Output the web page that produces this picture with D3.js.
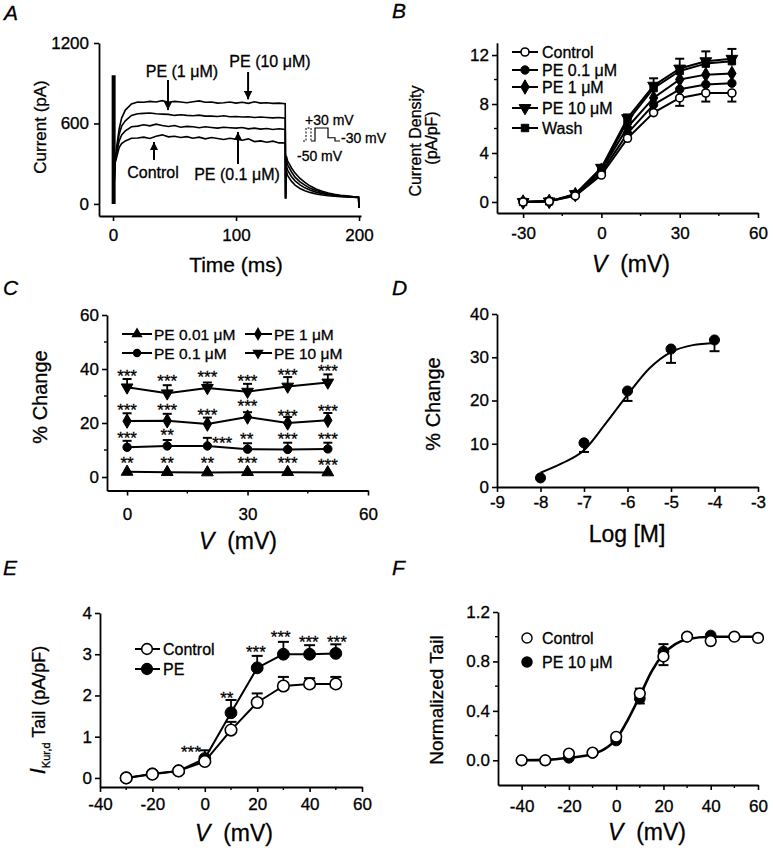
<!DOCTYPE html>
<html><head><meta charset="utf-8">
<script src="https://cdn.jsdelivr.net/npm/d3@7"></script>
<style>
body{margin:0;background:#fff}
svg{display:block}
text{font-family:"Liberation Sans",Arial,Helvetica,sans-serif;fill:#000;stroke:#000;stroke-width:0.3px}
</style>
</head><body>
<svg id="fig" width="773" height="851"></svg>
<script>
// ================= DATA =================
// Panel A: current traces (pA) vs time (ms)
const traceTime = [1.5,3,5,7,10,15,20,25,30,35,40,45,50,55,60,65,70,75,80,85,90,95,100,105,110,115,120,125,130,135,140];
const tracePE10 = [300,430,560,640,700,745,760,758,765,760,770,758,765,760,755,762,768,758,760,752,755,760,752,758,750,762,752,755,750,752,748];
const tracePE1  = [300,400,520,580,620,660,672,675,678,672,670,668,660,665,660,658,662,655,655,652,658,650,652,648,650,645,648,645,642,645,640];
const tracePE01 = [300,380,470,515,545,575,580,590,582,595,585,578,585,572,578,575,568,575,570,565,572,568,565,570,560,565,558,562,555,560,555];
const traceCtrl = [300,350,420,450,470,490,492,498,488,505,515,500,505,495,502,490,498,485,495,488,480,490,482,475,485,465,470,460,468,455,455];
const tailTime  = [140.3,140.8,142,145,148,152,156,160,165,170,175,180,185,190,195,199.6,200];
const tailPE10  = [40,360,320,270,230,190,160,135,112,95,82,72,65,60,55,52,-30];
const tailPE1   = [40,330,290,240,200,165,140,118,100,85,75,66,60,56,53,50,-30];
const tailPE01  = [40,290,250,205,172,142,120,104,88,77,68,61,57,53,51,49,-30];
const tailCtrl  = [40,250,210,170,140,115,98,86,75,67,61,57,54,52,50,48,-30];
const spikeTime = 0.5, spikePeak = 960;
const aXTicks = [0,100,200], aYTicks = [0,600,1200];
// annotations (time ms, current pA)
const annText  = ["PE (1 \u03bcM)","PE (10 \u03bcM)","Control","PE (0.1 \u03bcM)"];
const annTextT = [56,127.6,32.5,100.8];
const annTextV = [946,1021,194,179];
const annArrT  = [44.7,109.8,33.3,101.6];
const annArrFrom = [924,984,328,298];
const annArrTo   = [700,780,462,537];
// voltage protocol inset (arbitrary time units, mV)
const protoDashT = [0,3,3,8,8];
const protoDashV = [-50,-50,30,30,-50];
const protoSolidT = [8,12,12,25,25,32,32,37];
const protoSolidV = [-50,-50,30,30,-30,-30,-50,-50];

// Panel B: current density (pA/pF) vs V (mV)
const bV = [-30,-20,-10,0,10,20,30,40,50];
const bCtrl = [0,0.05,0.5,2.2,5.2,7.3,8.5,8.9,8.9];
const bPE01 = [0,0.05,0.55,2.4,5.6,7.95,9.2,9.6,9.7];
const bPE1  = [0,0.05,0.6,2.6,6.1,8.5,10.0,10.4,10.5];
const bPE10 = [0,0.05,0.65,2.8,6.85,9.5,10.9,11.5,11.7];
const bWash = [0,0.05,0.62,2.7,6.6,9.3,10.7,11.3,11.5];
const bCtrlErr = [0,0,0,0,0,0,-0.65,-0.7,-0.7];
const bPE10Err = [0,0,0,0,0.3,0.6,0.8,0.8,0.8];
const bNames = ["Control","PE 0.1 \u03bcM","PE 1 \u03bcM","PE 10 \u03bcM","Wash"];

// Panel C: % change vs V
const cV = [0,10,20,30,40,50];
const cPE001 = [1.9,1.8,1.7,1.8,1.8,1.7];
const cPE01 = [11,11.5,11.5,10.3,10.2,10.4];
const cPE01Err = [2.4,2.2,3.0,2.2,2.5,2.3];
const cPE1 = [20.7,20.8,19.6,22.2,20.0,21];
const cPE1Err = [2.9,2.6,2.4,1.8,2.2,2.7];
const cPE10 = [33.2,31,33,31.6,33.5,35];
const cPE10Err = [3.1,3.0,2.0,2.9,3.5,3.0];
const cStar001 = ["**","**","**","***","***","***"];
const cStar001X = [0,10,20,30,40,50];
const cStar001Y = [6.3,6.3,6.3,6.3,6.3,5.6];
const cStar01 = ["***","**","***","**","***","***"];
const cStar01X = [0,10,23.7,29.8,40,50];
const cStar01Y = [15.6,16.7,13.7,15.2,15.2,15.2];
const cStar1 = ["***","***","***","***","***","***"];
const cStar1X = [0,10,20,30,40,50];
const cStar1Y = [25.9,25.9,24.1,27.4,23.7,25.6];
const cStar10 = ["***","***","***","***","***","***"];
const cStar10X = [0,10,20,30,40,50];
const cStar10Y = [38.5,36.7,38.1,36.7,38.9,40.4];
const cNames = ["PE 0.01 \u03bcM","PE 0.1 \u03bcM","PE 1 \u03bcM","PE 10 \u03bcM"];

// Panel D: concentration-response
const dLogM = [-8,-7,-6,-5,-4];
const dPct = [2.1,10.2,22.2,31.9,34];
const dErr = [0,-2.1,-2.3,-3.2,-2.6];
const dFitX = [-8,-7.5,-7,-6.5,-6,-5.5,-5,-4.5,-4];
const dFitY = [3.3,5.5,8.5,14.7,21.3,27.4,31.2,32.8,33.3];

// Panel E: tail current
const eV = [-30,-20,-10,0,10,20,30,40,50];
const eCtrl = [0,0.09,0.17,0.4,1.16,1.83,2.23,2.28,2.28];
const eCtrlErr = [0,0,0,0,0.2,0.22,0.22,0.14,0.17];
const ePE = [0,0.1,0.17,0.47,1.58,2.67,3.0,3.0,3.02];
const ePEErr = [0,0,0,0.2,0.31,0.29,0.3,0.22,0.22];
const eStar = ["***","**","***","***","***","***"];
const eStarX = [-5.3,8.4,19.5,29,39.7,50.4];
const eStarY = [0.71,2.03,3.13,3.49,3.38,3.38];

// Panel F: normalized tail
const fV = [-40,-30,-20,-10,0,10,20,30,40,50,60];
const fCtrl = [0,0,0.054,0.062,0.19,0.54,0.84,1.0,0.965,1.0,0.99];
const fCtrlErr = [0,0,0,0,-0.04,0.04,-0.07,0,0,0,0];
const fVpe = [-40,-30,-20,-10,0,10,20,30,40];
const fPE = [0,0,0.02,0.06,0.16,0.5,0.88,1.0,1.01];
const fPEErr = [0,0,0,0,0,-0.04,0.06,0,0];
const fFitV = [-40,-30,-20,-10,-5,0,5,10,15,20,25,30,40,50,60];
const fFitN = [0,0.003,0.02,0.05,0.09,0.17,0.33,0.52,0.72,0.86,0.94,0.98,1.0,1.0,1.0];

// ================= DRAWING =================
const svg = d3.select("#fig");
const fmt = d => String(d);

function axes(x, y, o) {
  const g = svg.append("g");
  const xa = g.append("g").attr("transform", `translate(0,${y.range()[0]})`)
    .call(d3.axisBottom(x).tickValues(o.xt).tickSize(5).tickSizeOuter(0).tickPadding(o.xpad).tickFormat(o.xf || fmt));
  const ya = g.append("g").attr("transform", `translate(${x.range()[0]},0)`)
    .call(d3.axisLeft(y).tickValues(o.yt).tickSize(5).tickSizeOuter(0).tickPadding(o.ypad).tickFormat(o.yf || fmt));
  [xa, ya].forEach(a => {
    a.select(".domain").attr("stroke", "#000").attr("stroke-width", 1.8);
    a.selectAll(".tick line").attr("stroke", "#000").attr("stroke-width", 1.6);
    a.selectAll("text").attr("font-size", 17).attr("fill", "#000").attr("font-family", '"Liberation Sans",Arial,sans-serif');
  });
  (o.xm || []).forEach(v => g.append("line").attr("x1", x(v)).attr("x2", x(v))
    .attr("y1", y.range()[0]).attr("y2", y.range()[0] + 3).attr("stroke", "#000").attr("stroke-width", 1.4));
  (o.ym || []).forEach(v => g.append("line").attr("y1", y(v)).attr("y2", y(v))
    .attr("x1", x.range()[0]).attr("x2", x.range()[0] - 3).attr("stroke", "#000").attr("stroke-width", 1.4));
  return g;
}

function panelLetter(t, px, py) {
  svg.append("text").attr("x", px).attr("y", py).attr("font-size", 21).attr("font-style", "italic").text(t);
}

function vLabel(cx, by) {
  const t = svg.append("text").attr("x", cx).attr("y", by).attr("text-anchor", "middle").attr("font-size", 23);
  t.append("tspan").attr("font-style", "italic").text("V");
  t.append("tspan").text("\u00a0 (mV)");
}

function rotLabel(text, px, py, fs) {
  svg.append("text").attr("transform", `translate(${px},${py}) rotate(-90)`)
    .attr("text-anchor", "middle").attr("font-size", fs).text(text);
}

function errBars(x, y, xs, ys, es, cap) {
  xs.forEach((xv, i) => {
    if (!es[i]) return;
    const y0 = y(ys[i]), y1 = y(ys[i] + es[i]);
    svg.append("line").attr("x1", x(xv)).attr("x2", x(xv)).attr("y1", y0).attr("y2", y1)
      .attr("stroke", "#000").attr("stroke-width", 1.8);
    svg.append("line").attr("x1", x(xv) - cap / 2).attr("x2", x(xv) + cap / 2).attr("y1", y1).attr("y2", y1)
      .attr("stroke", "#000").attr("stroke-width", 2);
  });
}

function seriesLine(x, y, xs, ys, w, curve) {
  const ln = d3.line().x(d => x(d[0])).y(d => y(d[1]));
  if (curve) ln.curve(curve);
  svg.append("path").attr("d", ln(xs.map((v, i) => [v, ys[i]])))
    .attr("fill", "none").attr("stroke", "#000").attr("stroke-width", w).attr("stroke-linejoin", "round");
}

function markers(x, y, xs, ys, type, size, open, rot) {
  const sym = d3.symbol().type(type).size(size);
  xs.forEach((xv, i) => {
    svg.append("path").attr("d", sym())
      .attr("transform", `translate(${x(xv)},${y(ys[i])})${rot ? " rotate(180)" : ""}`)
      .attr("fill", open ? "#fff" : "#000").attr("stroke", "#000").attr("stroke-width", open ? 1.6 : 1);
  });
}

function stars(x, y, xs, ys, txt, fs) {
  xs.forEach((xv, i) => {
    svg.append("text").attr("x", x(xv)).attr("y", y(ys[i]) + fs * 0.55)
      .attr("text-anchor", "middle").attr("font-size", fs).text(txt[i]);
  });
}

// ---------- Panel A ----------
{
  const x = d3.scaleLinear().domain([-11.4, 201.6]).range([99, 361]);
  const y = d3.scaleLinear().domain([-90, 1200]).range([216, 43]);
  axes(x, y, {xt: aXTicks, yt: aYTicks, xpad: 8, ypad: 5});
  const ln = d3.line().x(d => x(d[0])).y(d => y(d[1]));
  [[tracePE10, tailPE10], [tracePE1, tailPE1], [tracePE01, tailPE01], [traceCtrl, tailCtrl]].forEach(([tr, tl]) => {
    const pts = [[0.3, 0]].concat(traceTime.map((t, i) => [t, tr[i]]), tailTime.map((t, i) => [t, tl[i]]));
    svg.append("path").attr("d", ln(pts)).attr("fill", "none").attr("stroke", "#000").attr("stroke-width", 1.6);
  });
  svg.append("line").attr("x1", x(spikeTime)).attr("x2", x(spikeTime)).attr("y1", y(0)).attr("y2", y(spikePeak))
    .attr("stroke", "#000").attr("stroke-width", 4);
  // arrows
  const defs = svg.append("defs");
  defs.append("marker").attr("id", "ah").attr("viewBox", "0 0 10 10").attr("refX", 10).attr("refY", 5)
    .attr("markerWidth", 4.2).attr("markerHeight", 4.2).attr("orient", "auto-start-reverse")
    .append("path").attr("d", "M0,0L10,5L0,10z").attr("fill", "#000");
  annText.forEach((t, i) => {
    svg.append("text").attr("x", x(annTextT[i])).attr("y", y(annTextV[i])).attr("text-anchor", "middle")
      .attr("font-size", 16).text(t);
    svg.append("line").attr("x1", x(annArrT[i])).attr("x2", x(annArrT[i]))
      .attr("y1", y(annArrFrom[i])).attr("y2", y(annArrTo[i]))
      .attr("stroke", "#000").attr("stroke-width", 2).attr("marker-end", "url(#ah)");
  });
  // protocol inset
  const px = d3.scaleLinear().domain([0, 37]).range([303, 340]);
  const pv = d3.scaleLinear().domain([-50, 30]).range([141, 128]);
  const pl = d3.line().x(d => px(d[0])).y(d => pv(d[1]));
  svg.append("path").attr("d", pl(protoDashT.map((t, i) => [t, protoDashV[i]])))
    .attr("fill", "none").attr("stroke", "#000").attr("stroke-width", 1).attr("stroke-dasharray", "2,1.5");
  svg.append("path").attr("d", pl(protoSolidT.map((t, i) => [t, protoSolidV[i]])))
    .attr("fill", "none").attr("stroke", "#000").attr("stroke-width", 1.2);
  svg.append("text").attr("x", 305).attr("y", 125).attr("font-size", 14).text("+30 mV");
  svg.append("text").attr("x", 341).attr("y", 143).attr("font-size", 14).text("-30 mV");
  svg.append("text").attr("x", 297).attr("y", 161).attr("font-size", 14).text("-50 mV");
  svg.append("text").attr("x", 236).attr("y", 272).attr("text-anchor", "middle").attr("font-size", 21).text("Time (ms)");
  rotLabel("Current (pA)", 46, 127, 17);
  panelLetter("A", 4, 20);
}

// ---------- Panel B ----------
{
  const x = d3.scaleLinear().domain([-40, 60]).range([497, 758]);
  const y = d3.scaleLinear().domain([-0.9, 13]).range([213, 42.8]);
  axes(x, y, {xt: [-30, 0, 30, 60], yt: [0, 4, 8, 12], xm: [-15, 15, 45], ym: [2, 6, 10], xpad: 9, ypad: 3});
  errBars(x, y, bV, bPE10, bPE10Err, 9);
  errBars(x, y, bV, bCtrl, bCtrlErr, 9);
  const series = [bWash, bPE10, bPE1, bPE01, bCtrl];
  series.forEach(s => seriesLine(x, y, bV, s, 2));
  markers(x, y, bV, bWash, d3.symbolSquare, 55, false);
  markers(x, y, bV, bPE10, d3.symbolTriangle, 60, false, true);
  markers(x, y, bV, bPE1, d3.symbolDiamond, 60, false);
  markers(x, y, bV, bPE01, d3.symbolCircle, 55, false);
  markers(x, y, bV, bCtrl, d3.symbolCircle, 50, true);
  // legend
  const ly = [52, 70, 87, 108, 128];
  const lsym = [[d3.symbolCircle, 50, true, false], [d3.symbolCircle, 55, false, false], [d3.symbolDiamond, 60, false, false],
    [d3.symbolTriangle, 60, false, true], [d3.symbolSquare, 55, false, false]];
  bNames.forEach((n, i) => {
    svg.append("line").attr("x1", 512).attr("x2", 538).attr("y1", ly[i]).attr("y2", ly[i])
      .attr("stroke", "#000").attr("stroke-width", 2);
    const [t, s, o, r] = lsym[i];
    svg.append("path").attr("d", d3.symbol().type(t).size(s)())
      .attr("transform", `translate(525,${ly[i]})${r ? " rotate(180)" : ""}`)
      .attr("fill", o ? "#fff" : "#000").attr("stroke", "#000").attr("stroke-width", o ? 1.6 : 1);
    svg.append("text").attr("x", 542).attr("y", ly[i] + 6).attr("font-size", 16).text(n);
  });
  rotLabel("Current Density", 421, 141, 16);
  rotLabel("(pA/pF)", 437, 138, 16);
  vLabel(631, 272);
  panelLetter("B", 392, 18);
}

// ---------- Panel C ----------
{
  const x = d3.scaleLinear().domain([-5, 60]).range([107, 368]);
  const y = d3.scaleLinear().domain([-5, 60]).range([490.5, 315]);
  axes(x, y, {xt: [0, 30, 60], yt: [0, 20, 40, 60], xm: [15, 45], ym: [10, 30, 50], xpad: 12, ypad: 3});
  errBars(x, y, cV, cPE10, cPE10Err, 9);
  errBars(x, y, cV, cPE1, cPE1Err, 9);
  errBars(x, y, cV, cPE01, cPE01Err, 9);
  [cPE10, cPE1, cPE01, cPE001].forEach(s => seriesLine(x, y, cV, s, 2));
  markers(x, y, cV, cPE10, d3.symbolTriangle, 60, false, true);
  markers(x, y, cV, cPE1, d3.symbolDiamond, 60, false);
  markers(x, y, cV, cPE01, d3.symbolCircle, 55, false);
  markers(x, y, cV, cPE001, d3.symbolTriangle, 60, false);
  stars(x, y, cStar001X, cStar001Y, cStar001, 17);
  stars(x, y, cStar01X, cStar01Y, cStar01, 17);
  stars(x, y, cStar1X, cStar1Y, cStar1, 17);
  stars(x, y, cStar10X, cStar10Y, cStar10, 17);
  // legend
  const lx = [137, 137, 258, 258], lyy = [334, 353, 334, 353];
  const lsym = [[d3.symbolTriangle, false], [d3.symbolCircle, false], [d3.symbolDiamond, false], [d3.symbolTriangle, true]];
  const lx1 = [122, 122, 245, 245], lx2 = [152, 152, 272, 272];
  cNames.forEach((n, i) => {
    svg.append("line").attr("x1", lx1[i]).attr("x2", lx2[i]).attr("y1", lyy[i]).attr("y2", lyy[i])
      .attr("stroke", "#000").attr("stroke-width", 2);
    svg.append("path").attr("d", d3.symbol().type(lsym[i][0]).size(55)())
      .attr("transform", `translate(${lx[i]},${lyy[i]})${lsym[i][1] ? " rotate(180)" : ""}`).attr("fill", "#000");
    svg.append("text").attr("x", lx2[i] + 2).attr("y", lyy[i] + 6).attr("font-size", 15.5).text(n);
  });
  rotLabel("% Change", 47, 397, 20);
  vLabel(238, 549);
  panelLetter("C", 3, 295);
}

// ---------- Panel D ----------
{
  const x = d3.scaleLinear().domain([-9, -3]).range([497, 758]);
  const y = d3.scaleLinear().domain([0, 40]).range([487, 314]);
  axes(x, y, {xt: [-9, -8, -7, -6, -5, -4, -3], yt: [0, 10, 20, 30, 40], xpad: 4, ypad: 3});
  errBars(x, y, dLogM, dPct, dErr, 10);
  seriesLine(x, y, dFitX, dFitY, 2, d3.curveMonotoneX);
  markers(x, y, dLogM, dPct, d3.symbolCircle, 80, false);
  rotLabel("% Change", 440, 404, 20);
  svg.append("text").attr("x", 627).attr("y", 542).attr("text-anchor", "middle").attr("font-size", 23).text("Log [M]");
  panelLetter("D", 392, 295);
}

// ---------- Panel E ----------
{
  const x = d3.scaleLinear().domain([-40, 60]).range([100, 362]);
  const y = d3.scaleLinear().domain([-0.22, 4]).range([787, 613]);
  axes(x, y, {xt: [-40, -20, 0, 20, 40, 60], yt: [0, 1, 2, 3, 4], xm: [-30, -10, 10, 30, 50], xpad: 6, ypad: 3});
  errBars(x, y, eV, ePE, ePEErr, 11);
  errBars(x, y, eV, eCtrl, eCtrlErr, 11);
  seriesLine(x, y, eV, ePE, 2);
  seriesLine(x, y, eV, eCtrl, 2);
  markers(x, y, eV, ePE, d3.symbolCircle, 110, false);
  markers(x, y, eV, eCtrl, d3.symbolCircle, 105, true);
  stars(x, y, eStarX, eStarY, eStar, 17);
  // legend
  [[649, true, "Control"], [669, false, "PE"]].forEach(([ly, o, n]) => {
    svg.append("line").attr("x1", 135).attr("x2", 160).attr("y1", ly).attr("y2", ly).attr("stroke", "#000").attr("stroke-width", 2);
    svg.append("path").attr("d", d3.symbol().type(d3.symbolCircle).size(90)()).attr("transform", `translate(147,${ly})`)
      .attr("fill", o ? "#fff" : "#000").attr("stroke", "#000").attr("stroke-width", 1.6);
    svg.append("text").attr("x", 163).attr("y", ly + 6).attr("font-size", 16).text(n);
  });
  const t = svg.append("text").attr("transform", "translate(45,710) rotate(-90)").attr("text-anchor", "middle");
  t.append("tspan").attr("font-style", "italic").attr("font-size", 22).text("I");
  t.append("tspan").attr("font-size", 11).attr("dy", 5).text("Kur,d");
  t.append("tspan").attr("font-size", 18).attr("dy", -5).text(" Tail (pA/pF)");
  vLabel(234, 841);
  panelLetter("E", 3, 575);
}

// ---------- Panel F ----------
{
  const x = d3.scaleLinear().domain([-50, 60]).range([498, 758]);
  const y = d3.scaleLinear().domain([-0.2, 1.2]).range([785, 612]);
  axes(x, y, {xt: [-40, -20, 0, 20, 40, 60], yt: [0, 0.4, 0.8, 1.2], xm: [-30, -10, 10, 30, 50], ym: [0.2, 0.6, 1.0],
    xpad: 10, ypad: 3, yf: d3.format(".1f")});
  errBars(x, y, fVpe, fPE, fPEErr, 10);
  errBars(x, y, fV, fCtrl, fCtrlErr, 10);
  seriesLine(x, y, fFitV, fFitN, 2.6, d3.curveMonotoneX);
  markers(x, y, fVpe, fPE, d3.symbolCircle, 90, false);
  markers(x, y, fV, fCtrl, d3.symbolCircle, 90, true);
  [[638, true, "Control"], [662, false, "PE 10 \u03bcM"]].forEach(([ly, o, n]) => {
    svg.append("path").attr("d", d3.symbol().type(d3.symbolCircle).size(80)()).attr("transform", `translate(527,${ly})`)
      .attr("fill", o ? "#fff" : "#000").attr("stroke", "#000").attr("stroke-width", 1.4);
    svg.append("text").attr("x", 542).attr("y", ly + 6).attr("font-size", 16).text(n);
  });
  rotLabel("Normalized Tail", 443, 700, 19);
  vLabel(647, 840);
  panelLetter("F", 392, 575);
}
</script>
</body></html>
